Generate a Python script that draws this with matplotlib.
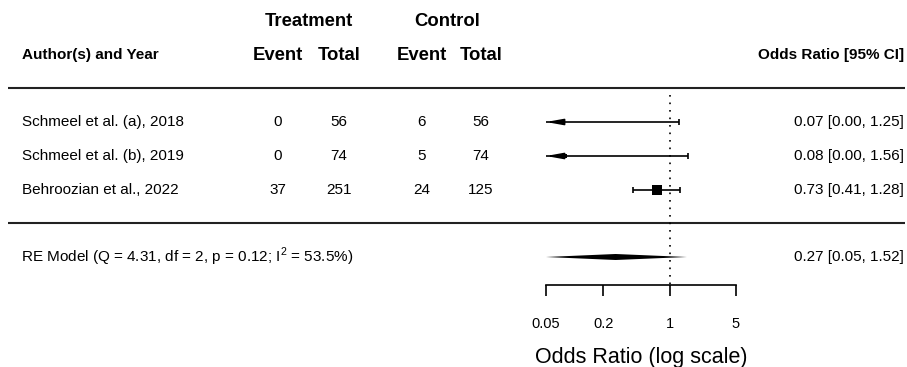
import matplotlib
matplotlib.use("Agg")
import matplotlib.pyplot as plt
from matplotlib.ticker import NullLocator

plt.rcParams['font.family'] = ['Liberation Sans', 'DejaVu Sans']
plt.rcParams['mathtext.fontset'] = 'custom'
plt.rcParams['mathtext.rm'] = 'Liberation Sans'

# study data
studies = ["Schmeel et al. (a), 2018", "Schmeel et al. (b), 2019", "Behroozian et al., 2022"]
trt_event = [0, 0, 37]
trt_total = [56, 74, 251]
ctl_event = [6, 5, 24]
ctl_total = [56, 74, 125]
odds = [0.07, 0.08, 0.73]
ci_lo = [0.00, 0.00, 0.41]
ci_hi = [1.25, 1.56, 1.28]

# random effects summary
re_est, re_lo, re_hi = 0.27, 0.05, 1.52
re_q, re_df, re_p, re_i2 = 4.31, 2, 0.12, 53.5

ticks = [0.05, 0.2, 1, 5]
tick_labels = ["0.05", "0.2", "1", "5"]

# layout (pixel units, y grows downward)
W, H = 907, 367
row_y = [122, 156, 190]
re_y = 257
head1_y, head2_y = 22, 55
axis_y = 285
col_x = [278, 339, 422, 481]
box_pt = [2.6, 3.0, 7.0]

fig = plt.figure(figsize=(W / 100, H / 100), dpi=100)
ax0 = fig.add_axes([0, 0, 1, 1])
ax0.set_xlim(0, W)
ax0.set_ylim(H, 0)
ax0.axis('off')

# headers
ax0.text(309, head1_y, "Treatment", ha='center', va='center', fontsize=13.3, fontweight='bold')
ax0.text(447, head1_y, "Control", ha='center', va='center', fontsize=13.3, fontweight='bold')
for x, lab in zip(col_x, ["Event", "Total", "Event", "Total"]):
    ax0.text(x, head2_y, lab, ha='center', va='center', fontsize=13.3, fontweight='bold')
ax0.text(22, head2_y, "Author(s) and Year", ha='left', va='center', fontsize=11, fontweight='bold')
ax0.text(904, head2_y, "Odds Ratio [95% CI]", ha='right', va='center', fontsize=11, fontweight='bold')

ax0.plot([8, 905], [88, 88], color='#222222', lw=1.5, solid_capstyle='butt')
ax0.plot([8, 905], [223, 223], color='#222222', lw=1.5, solid_capstyle='butt')

# study rows
for i, y in enumerate(row_y):
    ax0.text(22, y, studies[i], ha='left', va='center', fontsize=11)
    for x, v in zip(col_x, [trt_event[i], trt_total[i], ctl_event[i], ctl_total[i]]):
        ax0.text(x, y, str(v), ha='center', va='center', fontsize=11)
    ax0.text(904, y, f"{odds[i]:.2f} [{ci_lo[i]:.2f}, {ci_hi[i]:.2f}]",
             ha='right', va='center', fontsize=11)

re_label = f"RE Model (Q = {re_q:.2f}, df = {re_df}, p = {re_p:.2f}; " + r"$\mathrm{I}^{2}$" + f" = {re_i2:.1f}%)"
ax0.text(21, re_y, re_label, ha='left', va='center', fontsize=11)
ax0.text(904, re_y, f"{re_est:.2f} [{re_lo:.2f}, {re_hi:.2f}]", ha='right', va='center', fontsize=11)
ax0.text(641, 357, "Odds Ratio (log scale)", ha='center', va='center', fontsize=15.5)

# forest panel on a log scale
ax = fig.add_axes([546 / W, 0, 190 / W, 1])
ax.patch.set_alpha(0)
ax.set_xscale('log')
xmin, xmax = ticks[0], ticks[-1]
ax.set_xlim(xmin, xmax)
ax.set_ylim(H, 0)

ax.plot([1, 1], [95, axis_y], color='k', lw=1.2, ls=(0, (1, 3.5)))

for i, y in enumerate(row_y):
    lo = max(ci_lo[i], xmin)
    ax.plot([lo, ci_hi[i]], [y, y], color='k', lw=1.2, solid_capstyle='butt')
    ax.plot([ci_hi[i]], [y], marker='|', ms=5, mew=1.2, color='k')
    if ci_lo[i] < xmin:
        ax.annotate('', xy=(xmin, y), xytext=(odds[i], y),
                    arrowprops=dict(arrowstyle='-|>,head_length=1.0,head_width=0.18',
                                    lw=1.2, color='k', shrinkA=0, shrinkB=0),
                    annotation_clip=False)
    else:
        ax.plot([lo], [y], marker='|', ms=5, mew=1.2, color='k')
    ax.plot([odds[i]], [y], marker='s', ms=box_pt[i], color='k', mew=0)

ax.fill([re_lo, re_est, re_hi, re_est], [re_y, re_y - 3, re_y, re_y + 3], color='k', lw=0)

for s in ['top', 'left', 'right']:
    ax.spines[s].set_visible(False)
ax.spines['bottom'].set_position(('data', axis_y))
ax.spines['bottom'].set_linewidth(1.2)
ax.spines['bottom'].set_bounds(xmin, xmax)
ax.set_xticks(ticks)
ax.set_xticklabels(tick_labels)
ax.xaxis.set_minor_locator(NullLocator())
ax.tick_params(axis='x', direction='out', length=8, width=1.2, pad=15, labelsize=10.5)
ax.set_yticks([])

fig.savefig("out.png", dpi=100)
